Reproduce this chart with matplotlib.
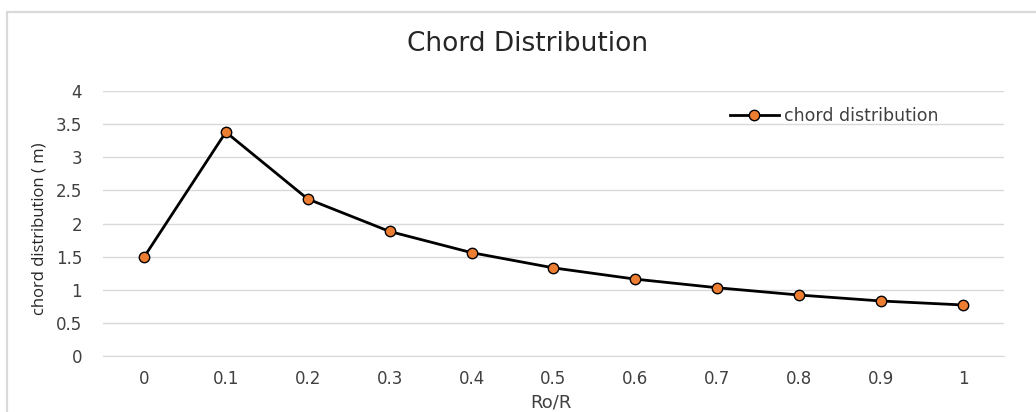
import matplotlib
matplotlib.use('Agg')
import matplotlib.pyplot as plt
from matplotlib.lines import Line2D

# Chord length along the blade span
ratios = ['0', '0.1', '0.2', '0.3', '0.4', '0.5', '0.6', '0.7', '0.8', '0.9', '1']
chord = [1.49, 3.38, 2.37, 1.88, 1.56, 1.33, 1.16, 1.03, 0.92, 0.83, 0.77]
y_ticks = [0, 0.5, 1, 1.5, 2, 2.5, 3, 3.5, 4]
y_labels = ['0', '0.5', '1', '1.5', '2', '2.5', '3', '3.5', '4']

plt.rcParams['font.family'] = ['DejaVu Sans']

fig = plt.figure(figsize=(10.36, 4.12), dpi=100)
ax = fig.add_axes([0.0994, 0.136, 0.8697, 0.643])

# chart frame (top and left edges only, the rest runs off the canvas)
frame_x = [7 / 1036, 7 / 1036, 1.0]
frame_y = [0.0, 1 - 12 / 412, 1 - 12 / 412]
fig.lines.append(Line2D(frame_x, frame_y, transform=fig.transFigure,
                        color='#d9d9d9', linewidth=1.6))

x = list(range(len(ratios)))
ax.plot(x, chord, color='black', linewidth=2.0, marker='o', markersize=7.5,
        markerfacecolor='#ED7D31', markeredgecolor='black', markeredgewidth=1.0,
        label='chord distribution', zorder=3)

ax.set_xlim(-0.5, len(ratios) - 0.5)
ax.set_ylim(0, 4)
ax.set_xticks(x)
ax.set_xticklabels(ratios)
ax.set_yticks(y_ticks)
ax.set_yticklabels(y_labels)
ax.tick_params(axis='both', length=0, labelsize=12, labelcolor='#404040')
ax.tick_params(axis='x', pad=10)
ax.tick_params(axis='y', pad=15)

ax.grid(axis='y', color='#d9d9d9', linewidth=1.0)
ax.set_axisbelow(True)
for side in ['top', 'right', 'left']:
    ax.spines[side].set_visible(False)
ax.spines['bottom'].set_color('#d9d9d9')

fig.text(0.509, 0.893, 'Chord Distribution', ha='center', va='center',
         fontsize=19, color='#262626')
fig.text(0.532, 0.022, 'Ro/R', ha='center', va='center', fontsize=13, color='#404040')
fig.text(0.038, 0.444, 'chord distribution ( m)', ha='center', va='center', rotation=90,
         fontsize=12, color='#262626', family=['Open Sans', 'DejaVu Sans'])

ax.legend(loc='center left', bbox_to_anchor=(730 / 1036, 1 - 116 / 412),
          bbox_transform=fig.transFigure, frameon=False, fontsize=12.5,
          borderpad=0, borderaxespad=0, handlelength=2.8, handletextpad=0.3,
          labelcolor='#404040')

fig.savefig('out.png', dpi=100, facecolor='white')
